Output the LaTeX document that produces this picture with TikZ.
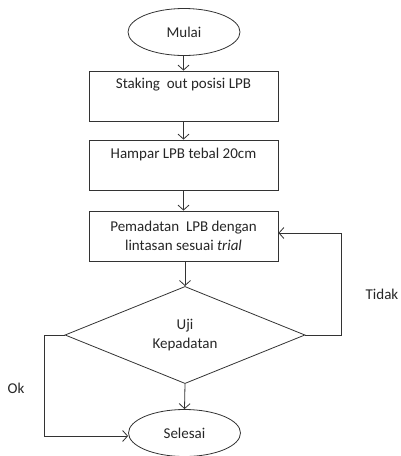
\documentclass[tikz,border=0pt]{standalone}
\usepackage{fontspec}
\setmainfont{Carlito}
\usetikzlibrary{shapes.geometric,arrows.meta}
\begin{document}
\begin{tikzpicture}[x=1pt,y=-1pt,
  line width=0.8pt, draw=black!80,
  every node/.style={font=\fontsize{15}{19.5}\selectfont, text=black!85},
  term/.style={ellipse, draw=black!80, minimum width=112pt, minimum height=47pt, inner sep=0pt},
  procbox/.style={rectangle, draw=black!80, minimum width=189pt, minimum height=50pt, inner sep=0pt},
  decision/.style={diamond, draw=black!80, minimum width=240pt, minimum height=94pt, inner sep=0pt},
  plain/.style={inner sep=0pt},
  arr/.style={draw=black!80, -{Straight Barb[length=5pt,width=11pt]}}]
\useasboundingbox (0,0) rectangle (401,456);
\node[term] (start) at (184,32) {Mulai};
\node[procbox] (b1) at (183.5,96) {};
\node[plain] (t1) at (183.5,85) {Staking\ \ out posisi LPB};
\node[procbox] (b2) at (183.5,165) {};
\node[plain] (t2) at (183.5,154) {Hampar LPB tebal 20cm};
\node[procbox, align=center] (b3) at (183.5,236) {Pemadatan\ \ LPB dengan\\lintasan sesuai \textit{trial}};
\node[decision, align=center] (d) at (185,335) {Uji\\Kepadatan};
\node[term] (end) at (184.5,433) {Selesai};
\node[plain] (tidak) at (382,294) {Tidak};
\node[plain] (ok) at (16,388) {Ok};
\coordinate (r1) at (341,335);
\coordinate (r2) at (341,233);
\coordinate (l1) at (44,335);
\coordinate (l2) at (44,436);
\draw[arr] (start.south -| b1.north) -- (b1.north);
\draw[arr] (b1.south) -- (b2.north);
\draw[arr] (b2.south) -- (b3.north);
\draw[arr] (b3.south -| d.north) -- (d.north);
\draw[arr] (d.south) -- (end.north);
\draw[arr] (d.east) -- (r1) -- (r2) -- (r2 -| b3.east);
\draw[arr] (d.west) -- (l1) -- (l2) -- (l2 -| end.west);
\end{tikzpicture}
\end{document}
